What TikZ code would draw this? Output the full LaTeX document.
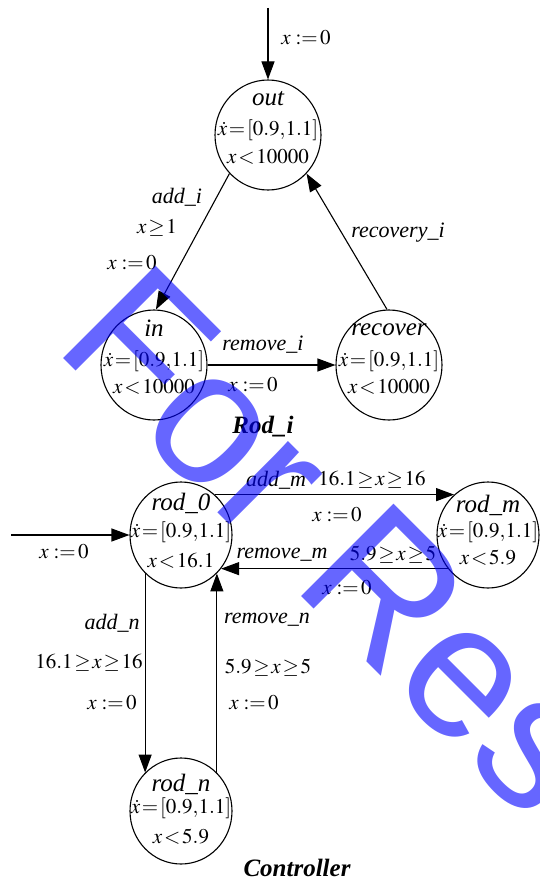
\documentclass[tikz,border=0pt]{standalone}
\usepackage{mathptmx}
\usepackage[no-math]{fontspec}
\setmainfont{Liberation Serif}
\newfontfamily\wmfont{Liberation Sans}
\usetikzlibrary{arrows.meta,shapes.geometric}
\newcommand\fs[1]{\fontsize{#1}{#1}\selectfont}
\newcommand\asg{$x\mskip4mu{:}{=}\mskip2mu0$}
\tikzset{
  st/.style={ellipse, draw, line width=1.1pt, minimum width=106pt, minimum height=110pt, inner sep=0pt},
  stl/.style={st, minimum width=102pt, minimum height=106pt},
  tx/.style={inner sep=0pt, font=\fs{21}},
  nm/.style={inner sep=0pt, font=\fs{25}\itshape},
  lb/.style={inner sep=0pt, font=\fs{21}},
  it/.style={inner sep=0pt, font=\fs{22}\itshape},
  ttl/.style={inner sep=0pt, font=\fs{25}\bfseries\itshape},
  edge/.style={line width=1.1pt, -{Triangle[length=18pt,width=13pt]}},
  wm/.style={inner sep=0pt, font=\wmfont\fs{190}, text=blue, text opacity=0.6}
}
\begin{document}
\begin{tikzpicture}[x=1pt,y=-1pt]
\thickmuskip=1.5mu plus 1mu
\useasboundingbox (0,0) rectangle (539,883);
\fill[white] (0,0) rectangle (539,883);
% ---------- Rod_i ----------
\node[st] (out) at (268,135) {};
\node[nm] (out1) at (268,99) {out};
\node[tx] (out2) at (268,130) {$\dot{x}=[0.9{,}1.1]$};
\node[tx] (out3) at (268,157) {$x<10000$};

\node[st] (in) at (154,365) {};
\node[nm] (in1) at (154,328) {in};
\node[tx] (in2) at (154,361) {$\dot{x}=[0.9{,}1.1]$};
\node[tx] (in3) at (154,387) {$x<10000$};

\node[st] (recover) at (389,365) {};
\node[nm] (rec1) at (389,330) {recover};
\node[tx] (rec2) at (389,361) {$\dot{x}=[0.9{,}1.1]$};
\node[tx] (rec3) at (389,387) {$x<10000$};

\coordinate (outinit) at (268,8);
\draw[edge] (outinit) -- (out);
\node[lb] (l0) at (306,38) {\asg};

\draw[edge] (out.225) -- (in.88);
\node[it] (l1) at (177,197) {add\_i};
\node[lb] (l2) at (157,228) {$x\geq 1$};
\node[lb] (l3) at (132,263) {\asg};

\draw[edge] (recover.92) -- (out.-45);
\node[it] (l4) at (398,233) {recovery\_i};

\draw[edge] (in) -- (recover);
\node[it] (l5) at (263,345) {remove\_i};
\node[lb] (l6) at (253,385) {\asg};

\node[ttl] (t1) at (263,427) {Rod\_i};

% ---------- Controller ----------
\node[stl] (rod0) at (181,535) {};
\node[nm] (r01) at (181,503) {rod\_0};
\node[tx] (r02) at (181,532) {$\dot{x}=[0.9{,}1.1]$};
\node[tx] (r03) at (181,561) {$x<16.1$};

\node[stl] (rodm) at (488,535) {};
\node[nm] (rm1) at (488,505) {rod\_m};
\node[tx] (rm2) at (488,532) {$\dot{x}=[0.9{,}1.1]$};
\node[tx] (rm3) at (488,558) {$x<5.9$};

\node[stl] (rodn) at (181,811) {};
\node[nm] (rn1) at (181,784) {rod\_n};
\node[tx] (rn2) at (181,808) {$\dot{x}=[0.9{,}1.1]$};
\node[tx] (rn3) at (181,837) {$x<5.9$};

\coordinate (r0init) at (11,535);
\draw[edge] (r0init) -- (rod0);
\node[lb] (l7) at (64,552) {\asg};

\draw[edge] (rod0.50) -- (rodm.130);
\node[it] (l8) at (276,480) {add\_m};
\node[lb] (l9) at (372,480) {$16.1\geq x\geq 16$};
\node[lb] (l10) at (337,515) {\asg};

\draw[edge] (rodm.220) -- (rod0.-40);
\node[it] (l11) at (282,555) {remove\_m};
\node[lb] (l12) at (393,555) {$5.9\geq x\geq 5$};
\node[lb] (l13) at (347,588) {\asg};

\draw[edge] (rod0.227) -- (rodn.133);
\node[it] (l14) at (112,623) {add\_n};
\node[lb] (l15) at (89,663) {$16.1\geq x\geq 16$};
\node[lb] (l16) at (112,703) {\asg};

\draw[edge] (rodn.47) -- (rod0.-47);
\node[it] (l17) at (267,620) {remove\_n};
\node[lb] (l18) at (268,668) {$5.9\geq x\geq 5$};
\node[lb] (l19) at (254,703) {\asg};

\node[ttl] (t2) at (297,868) {Controller};

% ---------- watermark ----------
\begin{scope}
\clip (0,0) rectangle (539,883);
\node[wm, rotate=-45, anchor=base west] (wmark) at (52,347) {For Res};
\end{scope}
\end{tikzpicture}
\end{document}
